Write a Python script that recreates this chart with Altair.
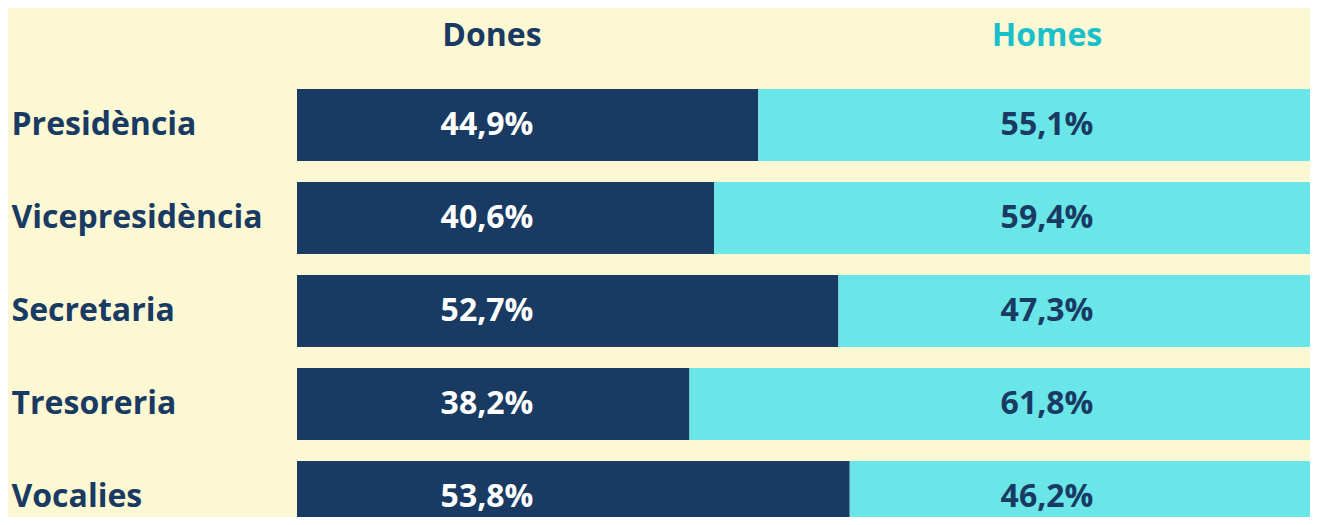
import altair as alt
import pandas as pd

categories = ["Presidència", "Vicepresidència", "Secretaria", "Tresoreria", "Vocalies"]
series = ["Dones", "Homes"]
dones = [44.9, 40.6, 52.7, 38.2, 53.8]
homes = [55.1, 59.4, 47.3, 61.8, 46.2]

NAVY = "#193A62"
CYAN = "#6AE5E8"
TEAL = "#19C0CB"
BG = "#FCF8D4"
FONT = "Open Sans"
FS = 32
STEP = 93
BAR = 72

rows = []
for i, c in enumerate(categories):
    for s, v in zip(series, [dones[i], homes[i]]):
        rows.append({"cat": c, "serie": s, "val": v,
                     "label": f"{v:.1f}".replace(".", ",") + "%",
                     "ord": series.index(s)})
df = pd.DataFrame(rows)

y_enc = alt.Y("cat:N", sort=categories,
              scale=alt.Scale(range=[0, (len(categories) - 1) * STEP + BAR],
                              paddingInner=(STEP - BAR) / STEP, paddingOuter=0),
              axis=alt.Axis(title=None, domain=False, ticks=False, labelAlign="left",
                            labelPadding=286, labelFontSize=FS, labelFont=FONT,
                            labelFontWeight="bold", labelColor=NAVY, labelLimit=400,
                            labelBaseline="middle"))

base = alt.Chart(df)

bars = base.mark_bar(clip=True).encode(
    x=alt.X("val:Q", stack="zero", scale=alt.Scale(domain=[0, 98.6], nice=False, zero=True), axis=None),
    y=y_enc,
    color=alt.Color("serie:N", scale=alt.Scale(domain=series, range=[NAVY, CYAN]), legend=None),
    order=alt.Order("ord:Q"),
)

lab_d = base.transform_filter(alt.datum.serie == series[0]).mark_text(
    font=FONT, fontSize=FS, fontWeight="bold", color="white", baseline="middle", align="center"
).encode(x=alt.value(190), y=alt.Y("cat:N", sort=categories), text="label:N")

lab_h = base.transform_filter(alt.datum.serie == series[1]).mark_text(
    font=FONT, fontSize=FS, fontWeight="bold", color=NAVY, baseline="middle", align="center"
).encode(x=alt.value(750), y=alt.Y("cat:N", sort=categories), text="label:N")

hdr_df = pd.DataFrame({"serie": series})
hdr_d = alt.Chart(hdr_df).transform_filter(alt.datum.serie == series[0]).mark_text(
    font=FONT, fontSize=FS, fontWeight="bold", color=NAVY, baseline="middle", align="center"
).encode(x=alt.value(195), y=alt.value(-53), text="serie:N")
hdr_h = alt.Chart(hdr_df).transform_filter(alt.datum.serie == series[1]).mark_text(
    font=FONT, fontSize=FS, fontWeight="bold", color=TEAL, baseline="middle", align="center"
).encode(x=alt.value(750), y=alt.value(-53), text="serie:N")

chart = alt.layer(bars, lab_d, lab_h, hdr_d, hdr_h).properties(
    width=1013, height=428,
    autosize=alt.AutoSizeParams(type="none"),
    padding={"left": 289, "top": 81, "right": 0, "bottom": 0},
    background=BG,
).configure_view(stroke=None)

chart.save("out.html", embed_options={"renderer": "svg", "actions": False})
